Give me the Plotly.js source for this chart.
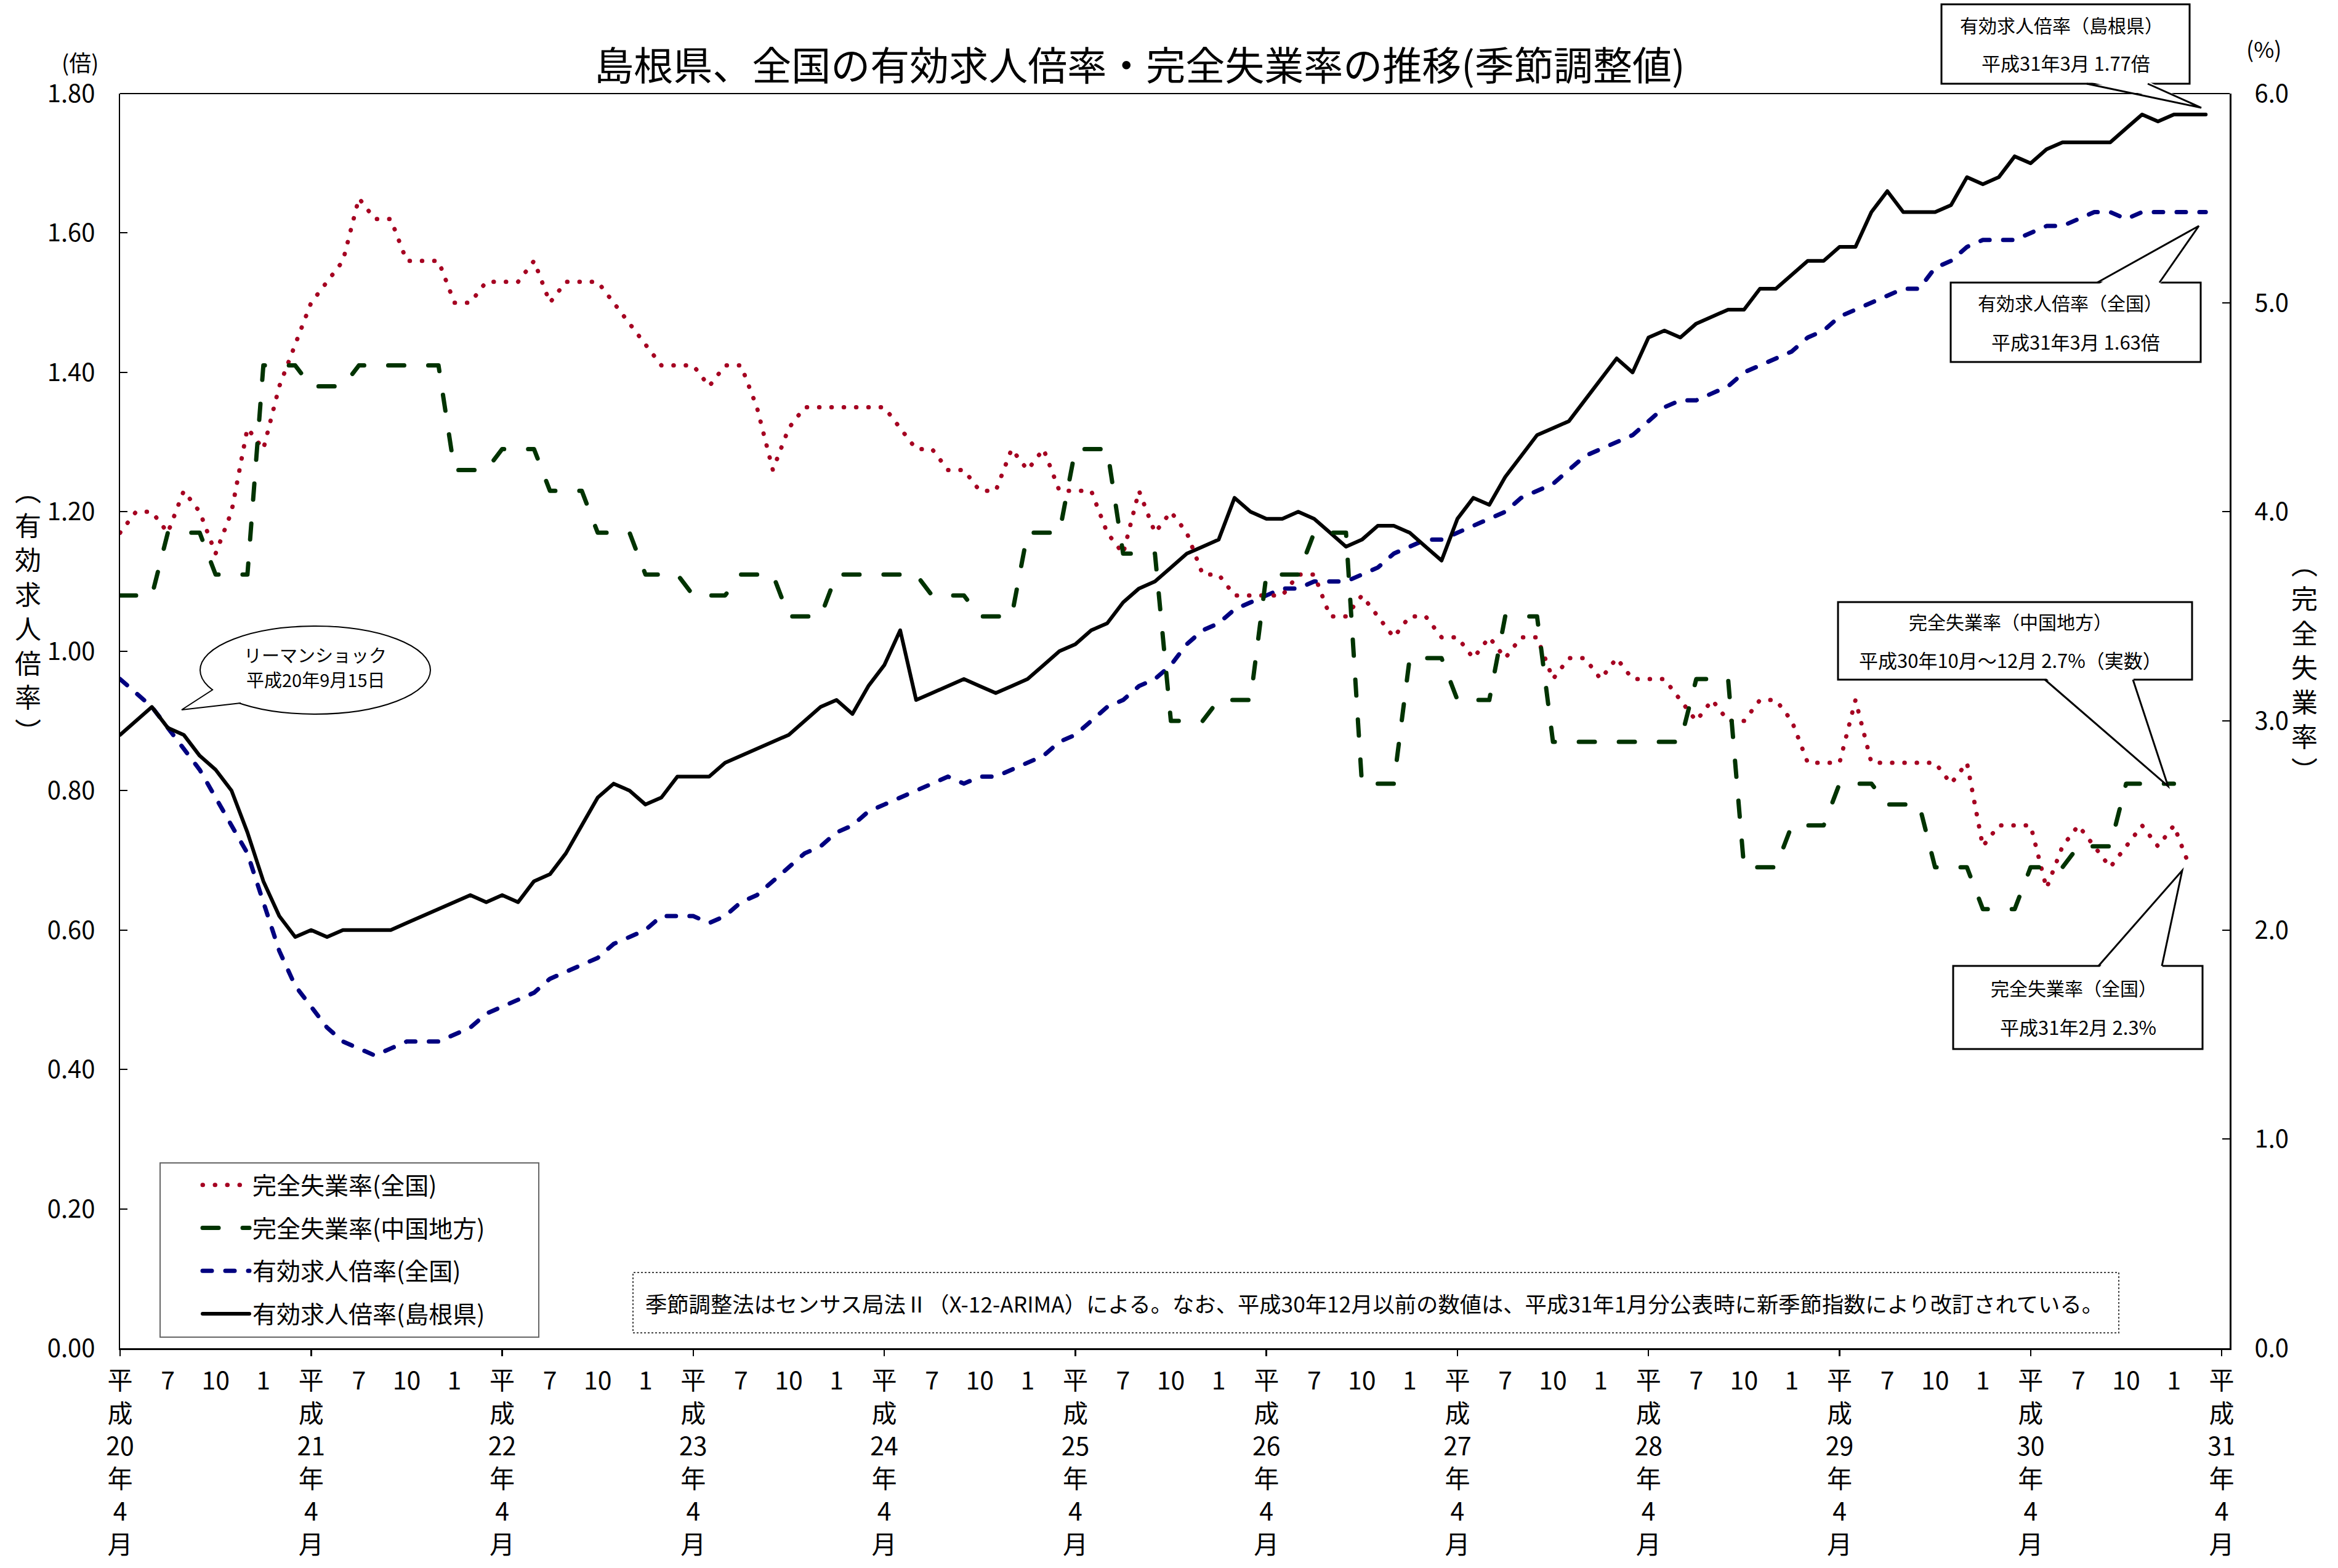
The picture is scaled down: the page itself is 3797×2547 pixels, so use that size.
<!DOCTYPE html>
<html><head><meta charset="utf-8">
<script src="https://cdn.plot.ly/plotly-3.0.1.min.js"></script>
<style>html,body{margin:0;padding:0;background:#fff}</style>
</head><body>
<div id="chart" style="width:3797px;height:2547px"></div>
<script>
// 有効求人倍率（島根県） H20.4 - H31.3
const shimane = [0.88,0.90,0.92,0.89,0.88,0.85,0.83,0.80,0.74,0.67,
 0.62,0.59,0.60,0.59,0.60,0.60,0.60,0.60,0.61,0.62,
 0.63,0.64,0.65,0.64,0.65,0.64,0.67,0.68,0.71,0.75,
 0.79,0.81,0.80,0.78,0.79,0.82,0.82,0.82,0.84,0.85,
 0.86,0.87,0.88,0.90,0.92,0.93,0.91,0.95,0.98,1.03,
 0.93,0.94,0.95,0.96,0.95,0.94,0.95,0.96,0.98,1.00,
 1.01,1.03,1.04,1.07,1.09,1.10,1.12,1.14,1.15,1.16,
 1.22,1.20,1.19,1.19,1.20,1.19,1.17,1.15,1.16,1.18,
 1.18,1.17,1.15,1.13,1.19,1.22,1.21,1.25,1.28,1.31,
 1.32,1.33,1.36,1.39,1.42,1.40,1.45,1.46,1.45,1.47,
 1.48,1.49,1.49,1.52,1.52,1.54,1.56,1.56,1.58,1.58,
 1.63,1.66,1.63,1.63,1.63,1.64,1.68,1.67,1.68,1.71,
 1.70,1.72,1.73,1.73,1.73,1.73,1.75,1.77,1.76,1.77,
 1.77,1.77];
// 有効求人倍率（全国） H20.4 - H31.3
const national = [0.96,0.94,0.92,0.89,0.86,0.83,0.79,0.75,0.71,0.64,
 0.57,0.52,0.49,0.46,0.44,0.43,0.42,0.43,0.44,0.44,
 0.44,0.45,0.46,0.48,0.49,0.50,0.51,0.53,0.54,0.55,
 0.56,0.58,0.59,0.60,0.62,0.62,0.62,0.61,0.62,0.64,
 0.65,0.67,0.69,0.71,0.72,0.74,0.75,0.77,0.78,0.79,
 0.80,0.81,0.82,0.81,0.82,0.82,0.83,0.84,0.85,0.87,
 0.88,0.90,0.92,0.93,0.95,0.96,0.98,1.01,1.03,1.04,
 1.06,1.07,1.08,1.09,1.09,1.10,1.10,1.10,1.11,1.12,
 1.14,1.15,1.16,1.16,1.17,1.18,1.19,1.20,1.22,1.23,
 1.24,1.26,1.28,1.29,1.30,1.31,1.33,1.35,1.36,1.36,
 1.37,1.38,1.40,1.41,1.42,1.43,1.45,1.46,1.48,1.49,
 1.50,1.51,1.52,1.52,1.55,1.56,1.58,1.59,1.59,1.59,
 1.60,1.61,1.61,1.62,1.63,1.63,1.62,1.63,1.63,1.63,
 1.63,1.63];
// 完全失業率（全国） H20.4 - H31.2 (%)
const unempNational = [3.9,4.0,4.0,3.9,4.1,4.0,3.8,4.0,4.4,4.3,
 4.6,4.8,5.0,5.1,5.2,5.5,5.4,5.4,5.2,5.2,
 5.2,5.0,5.0,5.1,5.1,5.1,5.2,5.0,5.1,5.1,
 5.1,5.0,4.9,4.8,4.7,4.7,4.7,4.6,4.7,4.7,
 4.5,4.2,4.4,4.5,4.5,4.5,4.5,4.5,4.5,4.4,
 4.3,4.3,4.2,4.2,4.1,4.1,4.3,4.2,4.3,4.1,
 4.1,4.1,3.9,3.8,4.1,3.9,4.0,3.9,3.7,3.7,
 3.6,3.6,3.6,3.6,3.7,3.7,3.5,3.5,3.6,3.5,
 3.4,3.5,3.5,3.4,3.4,3.3,3.4,3.3,3.4,3.4,
 3.2,3.3,3.3,3.2,3.3,3.2,3.2,3.2,3.1,3.0,
 3.1,3.0,3.0,3.1,3.1,3.0,2.8,2.8,2.8,3.1,
 2.8,2.8,2.8,2.8,2.8,2.7,2.8,2.4,2.5,2.5,
 2.5,2.2,2.4,2.5,2.4,2.3,2.4,2.5,2.4,2.5,
 2.3];
// 完全失業率（中国地方） quarterly values plotted monthly (%)
const unempChugoku = [3.6,3.6,3.6, 3.9,3.9,3.9, 3.7,3.7,3.7, 4.7,4.7,4.7,
 4.6,4.6,4.6, 4.7,4.7,4.7, 4.7,4.7,4.7, 4.2,4.2,4.2,
 4.3,4.3,4.3, 4.1,4.1,4.1, 3.9,3.9,3.9, 3.7,3.7,3.7,
 3.6,3.6,3.6, 3.7,3.7,3.7, 3.5,3.5,3.5, 3.7,3.7,3.7,
 3.7,3.7,3.7, 3.6,3.6,3.6, 3.5,3.5,3.5, 3.9,3.9,3.9,
 4.3,4.3,4.3, 3.8,3.8,3.8, 3.0,3.0,3.0, 3.1,3.1,3.1,
 3.7,3.7,3.7, 3.9,3.9,3.9, 2.7,2.7,2.7, 3.3,3.3,3.3,
 3.1,3.1,3.1, 3.5,3.5,3.5, 2.9,2.9,2.9, 2.9,2.9,2.9,
 2.9,2.9,2.9, 3.2,3.2,3.2, 2.3,2.3,2.3, 2.5,2.5,2.5,
 2.7,2.7,2.7, 2.6,2.6,2.6, 2.3,2.3,2.3, 2.1,2.1,2.1,
 2.3,2.3,2.3, 2.4,2.4,2.4, 2.7,2.7,2.7, 2.7];
// tick labels
const eraYears = ['20','21','22','23','24','25','26','27','28','29','30','31'];
const quarterMonths = ['7','10','1'];
const seriesNames = ['完全失業率(全国)','完全失業率(中国地方)','有効求人倍率(全国)','有効求人倍率(島根県)'];

const months = shimane.map((_, i) => i);
const tickPos = [], tickText = [];
for (let k = 0; k <= 44; k++) {
  tickPos.push(3 * k);
  tickText.push(k % 4 === 0 ? '平<br>成<br>' + eraYears[k / 4] + '<br>年<br>4<br>月' : quarterMonths[k % 4 - 1]);
}
const yearTicks = eraYears.map((_, i) => 12 * i);

// pixel -> paper helpers for decorations
const L = 195, R = 3621, T = 152, B = 2190;
const px = x => (x - L) / (R - L);
const py = y => (B - y) / (B - T);
const FONT = '"Noto Sans CJK JP", "Noto Sans", sans-serif';

const data = [
  {x: months.slice(0, unempNational.length), y: unempNational, xaxis: 'x', yaxis: 'y2', mode: 'lines',
   name: seriesNames[0], legendgroup: 'a', line: {color: '#A50021', width: 7, dash: '0.5px,19.5px'}},
  {x: months.slice(0, unempChugoku.length), y: unempChugoku, xaxis: 'x2', yaxis: 'y2', mode: 'lines',
   name: seriesNames[1], legendgroup: 'b', line: {color: '#003300', width: 7, dash: '26px,39px'}},
  {x: months, y: national, xaxis: 'x', yaxis: 'y', mode: 'lines',
   name: seriesNames[2], legendgroup: 'c', line: {color: '#000080', width: 7, dash: '15px,22px'}},
  {x: months, y: shimane, xaxis: 'x', yaxis: 'y', mode: 'lines',
   name: seriesNames[3], legendgroup: 'd', line: {color: '#000000', width: 6}}
];

function ann(text, x, y, size, extra) {
  return Object.assign({text: text, xref: 'paper', yref: 'paper', x: px(x), y: py(y), showarrow: false,
    xanchor: 'center', yanchor: 'middle', font: {family: FONT, size: size, color: '#000'}}, extra || {});
}
function P(pts, close) {
  return pts.map((p, i) => (i ? 'L' : 'M') + px(p[0]).toFixed(5) + ',' + py(p[1]).toFixed(5)).join(' ') + (close ? ' Z' : '');
}
const shapes = [
  {type: 'line', xref: 'paper', yref: 'paper', x0: 0, x1: 1, y0: 1, y1: 1, line: {color: '#000', width: 2}},
  // legend frame
  {type: 'rect', xref: 'paper', yref: 'paper', x0: px(260), x1: px(875), y0: py(2172), y1: py(1889),
   line: {color: '#666', width: 2}, fillcolor: 'rgba(0,0,0,0)'},
  // note frame
  {type: 'rect', xref: 'paper', yref: 'paper', x0: px(1028), x1: px(3441), y0: py(2165), y1: py(2067),
   line: {color: '#444', width: 2, dash: 'dot'}, fillcolor: 'rgba(0,0,0,0)'},
  // Lehman ellipse
  {type: 'circle', xref: 'paper', yref: 'paper', x0: px(325), x1: px(699), y0: py(1160), y1: py(1017),
   line: {color: '#000', width: 2}, fillcolor: '#fff'},
  {type: 'path', xref: 'paper', yref: 'paper', path: P([[346,1120],[295,1153],[391,1142]], false),
   line: {color: '#000', width: 2}, fillcolor: '#fff'}
];
function callout(x0, x1, y0, y1, b1, b2, tip, edgeY, inward) {
  shapes.push({type: 'rect', xref: 'paper', yref: 'paper', x0: px(x0), x1: px(x1), y0: py(y1), y1: py(y0),
    line: {color: '#000', width: 3}, fillcolor: '#fff'});
  shapes.push({type: 'path', xref: 'paper', yref: 'paper',
    path: P([[b1, edgeY + inward], tip, [b2, edgeY + inward]], true), line: {width: 0}, fillcolor: '#fff'});
  shapes.push({type: 'path', xref: 'paper', yref: 'paper',
    path: P([[b1, edgeY], tip, [b2, edgeY]], false), line: {color: '#000', width: 3}, fillcolor: 'rgba(0,0,0,0)'});
}
callout(3153, 3556, 7, 136, 3389, 3488, [3575, 175], 136, -4);
callout(3168, 3574, 459, 588, 3406, 3507, [3571, 367], 459, 4);
callout(2985, 3560, 978, 1104, 3321, 3464, [3521, 1277], 1104, -4);
callout(3172, 3577, 1569, 1704, 3408, 3511, [3544, 1414], 1569, 4);

const annotations = [
  ann('(倍)', 130, 100, 36),
  ann('(%)', 3677, 78, 36),
  ann('︵<br>有<br>効<br>求<br>人<br>倍<br>率<br>︶', 45, 990, 43),
  ann('︵<br>完<br>全<br>失<br>業<br>率<br>︶', 3742, 1081, 43),
  ann('リーマンショック', 512, 1063, 29),
  ann('平成20年9月15日', 512, 1103, 29),
  ann('有効求人倍率（島根県）', 3348, 40, 30),
  ann('平成31年3月 1.77倍', 3355, 102, 31),
  ann('有効求人倍率（全国）', 3362, 491, 30),
  ann('平成31年3月 1.63倍', 3371, 554, 31),
  ann('完全失業率（中国地方）', 3265, 1009, 30),
  ann('平成30年10月～12月 2.7%（実数）', 3265, 1071, 31),
  ann('完全失業率（全国）', 3368, 1604, 30),
  ann('平成31年2月 2.3%', 3375, 1667, 31),
  ann('季節調整法はセンサス局法Ⅱ（X-12-ARIMA）による。なお、平成30年12月以前の数値は、平成31年1月分公表時に新季節指数により改訂されている。',
      1046, 2116, 35.3, {xanchor: 'left'})
];

const layout = {
  width: 3797, height: 2547,
  margin: {l: L, r: 3797 - R, t: T, b: 2547 - B, pad: 0},
  paper_bgcolor: '#fff', plot_bgcolor: '#fff',
  font: {family: FONT, color: '#000', size: 40},
  title: {text: '島根県、全国の有効求人倍率・完全失業率の推移(季節調整値)', font: {family: FONT, size: 64, color: '#000'},
          x: 1851 / 3797, xanchor: 'center', y: 1 - 108 / 2547, yanchor: 'middle'},
  showlegend: true,
  legend: {x: px(324), y: py(1893), xanchor: 'left', yanchor: 'top', bgcolor: 'rgba(0,0,0,0)', borderwidth: 0,
           font: {family: FONT, size: 39, color: '#000'}, itemwidth: 76, tracegroupgap: 16, traceorder: 'grouped', valign: 'middle'},
  xaxis: {range: [0, 132.5], tickmode: 'array', tickvals: tickPos, ticktext: tickText, tickangle: 0,
          ticks: 'outside', ticklen: 15, tickcolor: 'rgba(0,0,0,0)', showline: true, linewidth: 3, linecolor: '#000',
          showgrid: false, zeroline: false, tickfont: {family: FONT, size: 41, color: '#000'}, automargin: false},
  xaxis2: {range: [0, 132.5], overlaying: 'x', anchor: 'y2', side: 'bottom', tickmode: 'array', tickvals: yearTicks,
           ticks: 'outside', ticklen: 12, tickwidth: 2.5, tickcolor: '#000', showticklabels: false, showline: false,
           showgrid: false, zeroline: false, automargin: false},
  yaxis: {range: [0, 1.8], tick0: 0, dtick: 0.2, tickformat: '.2f', ticks: 'inside', ticklen: 12, tickwidth: 2, tickcolor: '#000',
          showline: true, linewidth: 2.5, linecolor: '#000', showgrid: false, zeroline: false,
          tickfont: {family: FONT, size: 40, color: '#000'}, ticklabelstandoff: 30, automargin: false},
  yaxis2: {range: [0, 6], tick0: 0, dtick: 1, tickformat: '.1f', overlaying: 'y', side: 'right', anchor: 'x',
           ticks: 'inside', ticklen: 12, tickwidth: 2, tickcolor: '#000', showline: true, linewidth: 2.5, linecolor: '#000',
           showgrid: false, zeroline: false, tickfont: {family: FONT, size: 40, color: '#000'}, ticklabelstandoff: 30, automargin: false},
  shapes: shapes,
  annotations: annotations
};

Plotly.newPlot('chart', data, layout, {staticPlot: true, displayModeBar: false}).then(gd => {
  gd.querySelectorAll('.js-line').forEach(p => { p.style.strokeLinecap = 'round'; p.style.strokeLinejoin = 'round'; });
});
</script>
</body></html>
